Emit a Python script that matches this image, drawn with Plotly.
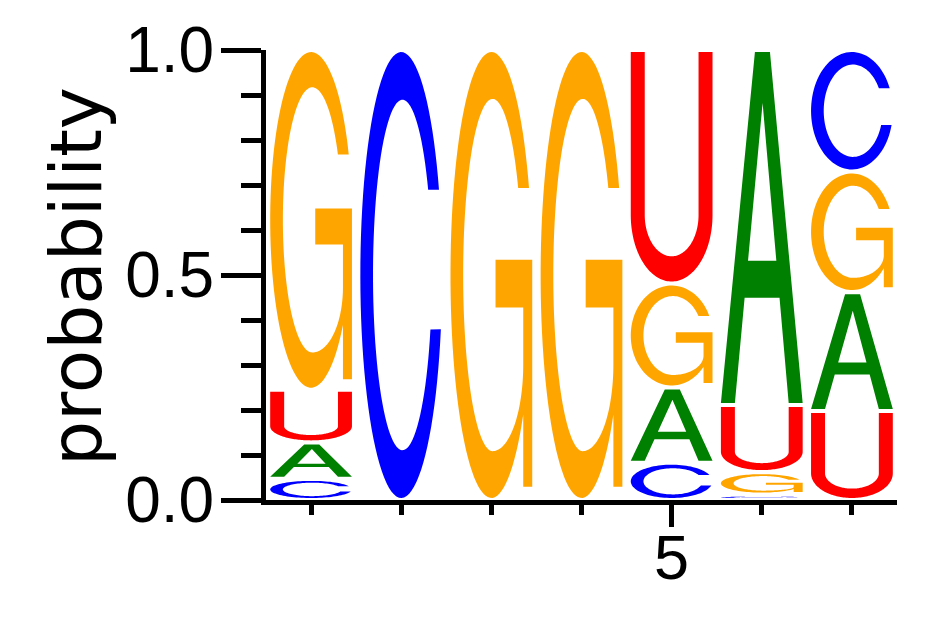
import math
import plotly.graph_objects as go

positions = [1, 2, 3, 4, 5, 6, 7]
prob_A = [0.081, 0.0, 0.0, 0.0, 0.167, 0.789, 0.264]
prob_C = [0.047, 1.0, 0.0, 0.0, 0.083, 0.012, 0.270]
prob_G = [0.755, 0.0, 1.0, 1.0, 0.231, 0.050, 0.268]
prob_U = [0.117, 0.0, 0.0, 0.0, 0.519, 0.149, 0.198]
y_tick_vals = [0.0, 0.5, 1.0]
y_tick_text = ["0.0", "0.5", "1.0"]
x_tick_vals = [5]
x_tick_text = ["5"]

letters = {"A": prob_A, "C": prob_C, "G": prob_G, "U": prob_U}
colors = {"A": "#008000", "C": "#0000FF", "G": "#FFA500", "U": "#FF0000"}

# ---- glyph outlines in a unit box ----
def arc(cx, cy, rx, ry, a0, a1, n=90):
    pts = []
    for i in range(n + 1):
        a = math.radians(a0 + (a1 - a0) * i / n)
        pts.append((cx + rx * math.cos(a), cy + ry * math.sin(a)))
    return pts

def glyph_C():
    outer = arc(0.5, 0.5, 0.5, 0.5, 22.5, 345.9)
    inner = arc(0.515, 0.5, 0.36, 0.393, 341.92, 29.08)
    return [outer + inner]

def glyph_G():
    pts = arc(0.5, 0.5, 0.5, 0.5, 22.95, 321.26)
    pts += [(0.89, 0.025), (1.0, 0.025), (1.0, 0.534), (0.551, 0.534),
            (0.551, 0.427), (0.89, 0.427), (0.89, 0.30)]
    pts += arc(0.515, 0.30, 0.375, 0.195, 0, -90, 40)
    pts += arc(0.515, 0.5, 0.36, 0.395, 270, 29.6)
    return [pts]

def glyph_U():
    pts = [(0.0, 1.0), (0.0, 0.29)]
    pts += arc(0.5, 0.29, 0.5, 0.29, 180, 360)
    pts += [(1.0, 1.0), (0.829, 1.0), (0.829, 0.29)]
    pts += arc(0.5, 0.29, 0.329, 0.18, 0, -180)
    pts += [(0.171, 1.0)]
    return [pts]

def glyph_A():
    outer = [(0.0, 0.0), (0.416, 1.0), (0.600, 1.0), (1.0, 0.0), (0.829, 0.0),
             (0.717, 0.30), (0.290, 0.30), (0.171, 0.0)]
    hole = [(0.3316, 0.405), (0.678, 0.405), (0.51, 0.855)]
    return [outer, hole]

glyphs = {"A": glyph_A(), "C": glyph_C(), "G": glyph_G(), "U": glyph_U()}

LETTER_W = 0.907
PAD = 0.0045

shapes = []
for i, pos in enumerate(positions):
    stack = sorted(((letters[k][i], k) for k in letters), key=lambda t: t[0])
    base = 0.0
    for p, k in stack:
        if p <= 0:
            continue
        y0, y1 = base + PAD, base + p - PAD
        base += p
        if y1 <= y0:
            continue
        x0 = pos - LETTER_W / 2
        path = ""
        for poly in glyphs[k]:
            seg = []
            for j, (u, v) in enumerate(poly):
                X = x0 + u * LETTER_W
                Y = y0 + v * (y1 - y0)
                seg.append(("M" if j == 0 else "L") + f"{X:.5f},{Y:.5f}")
            path += " ".join(seg) + " Z "
        shapes.append(dict(type="path", path=path.strip(), xref="x", yref="y",
                           fillcolor=colors[k], line=dict(width=0),
                           fillrule="evenodd", layer="above"))

fig = go.Figure()
fig.add_trace(go.Scatter(x=positions, y=[1.0] * len(positions), mode="markers",
                         marker=dict(opacity=0), hoverinfo="skip", showlegend=False))

L, R, T, B = 258, 53, 42, 125
PW = 942 - L - R
PH = 617 - T - B

fig.update_layout(
    template="none",
    width=942, height=617,
    margin=dict(l=L, r=R, t=T, b=B, pad=0),
    paper_bgcolor="white", plot_bgcolor="white",
    font=dict(family="Liberation Sans", color="black"),
    shapes=shapes,
    showlegend=False,
    annotations=[dict(text="probability", textangle=-90, showarrow=False,
                      xref="paper", yref="paper", x=(68 - L) / PW, y=0.5 - 2 / PH,
                      xanchor="center", yanchor="middle",
                      font=dict(family="DejaVu Sans", size=71, color="black"))],
)
fig.update_xaxes(range=[0.5, 7.5], showline=True, linewidth=5, linecolor="black",
                 automargin=False,
                 ticks="outside", tickvals=x_tick_vals, ticktext=x_tick_text,
                 ticklen=22, tickwidth=5, tickcolor="black", ticklabelstandoff=-24,
                 tickfont=dict(family="Liberation Sans", size=63, color="black"),
                 showgrid=False, zeroline=False,
                 minor=dict(tickvals=positions, ticklen=10, tickwidth=5,
                            tickcolor="black", ticks="outside", showgrid=False))
fig.update_yaxes(range=[0, 1], showline=True, linewidth=5, linecolor="black",
                 automargin=False,
                 ticks="outside", tickvals=y_tick_vals, ticktext=y_tick_text,
                 ticklen=40, tickwidth=5, tickcolor="black", ticklabelstandoff=-6,
                 tickfont=dict(family="Liberation Sans", size=64, color="black"),
                 showgrid=False, zeroline=False,
                 minor=dict(dtick=0.1, tick0=0, ticklen=20, tickwidth=5,
                            tickcolor="black", ticks="outside", showgrid=False))

fig.write_html("out.html")
